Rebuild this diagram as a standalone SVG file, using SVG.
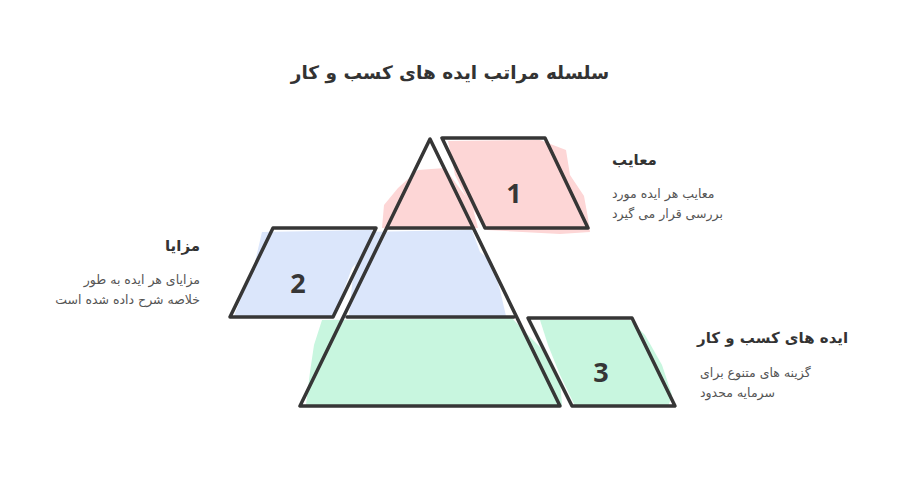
<svg xmlns="http://www.w3.org/2000/svg" width="900" height="482" viewBox="0 0 900 482">
<style>
.outline{fill:none;stroke:#363636;stroke-width:3.5;stroke-linejoin:round;stroke-linecap:round}
.pink{fill:#fdd6d6}
.blue{fill:#dbe6fb}
.green{fill:#c8f6df}
.num{font-family:"Open Sans","DejaVu Sans",sans-serif;font-weight:bold;font-size:27px;fill:#363636;text-anchor:middle}
.title{font-family:"DejaVu Sans","Liberation Sans",sans-serif;font-weight:bold;font-size:18.5px;fill:#333}
.head{font-family:"DejaVu Sans","Liberation Sans",sans-serif;font-weight:bold;font-size:15px;fill:#333}
.desc{font-family:"DejaVu Sans","Liberation Sans",sans-serif;font-size:12.5px;fill:#555}
</style>
<rect width="900" height="482" fill="#fff"/>
<text class="title" x="450" y="79" text-anchor="middle" direction="rtl">سلسله مراتب ایده های کسب و کار</text>

<g id="pyramid">
  <path class="pink" d="M382,228 L384,205 L398,188 L418,170 L445,168 L458,186 L472,205 L478,228 Z"/>
  <path class="blue" d="M349,316 L352,285 L360,232 L472,230 L480,252 L492,262 L500,290 L506,316 Z"/>
  <path class="green" d="M306,405 L310,372 L314,345 L322,320 L512,318 L525,332 L545,352 L560,380 L562,405 Z"/>
  <path class="outline" d="M430,139 L300,406 L560,406 Z"/>
  <line class="outline" x1="388" y1="228" x2="473" y2="228"/>
  <line class="outline" x1="347" y1="317" x2="514" y2="317"/>
</g>

<g id="node1">
  <path class="pink" d="M448,141 L540,140 L566,150 L570,175 L584,196 L588,218 L590,232 L560,234 L487,230 L470,205 L455,175 Z"/>
  <path class="outline" d="M442,138 L545,138 L588,228 L485,228 Z"/>
  <text class="num" x="514" y="203">1</text>
  <text class="head" x="612" y="165">معایب</text>
  <text class="desc" x="612" y="198">معایب هر ایده مورد</text>
  <text class="desc" x="612" y="218">بررسی قرار می گیرد</text>
</g>

<g id="node2">
  <path class="blue" d="M262,232 L372,230 L370,245 L352,268 L340,300 L332,316 L234,316 L246,285 L255,262 Z"/>
  <path class="outline" d="M273,228 L376,228 L333,317 L230,317 Z"/>
  <text class="num" x="298" y="293">2</text>
  <text class="head" x="200" y="251" text-anchor="end">مزایا</text>
  <text class="desc" x="200" y="284" text-anchor="end">مزایای هر ایده به طور</text>
  <text class="desc" x="200" y="304" text-anchor="end">خلاصه شرح داده شده است</text>
</g>

<g id="node3">
  <path class="green" d="M540,320 L630,320 L645,335 L662,365 L672,395 L668,407 L575,406 L560,375 L548,345 Z"/>
  <path class="outline" d="M528,318 L632,318 L675,406 L572,406 Z"/>
  <text class="num" x="601" y="382">3</text>
  <text class="head" x="697" y="343">ایده های کسب و کار</text>
  <text class="desc" x="700" y="377">گزینه های متنوع برای</text>
  <text class="desc" x="700" y="397">سرمایه محدود</text>
</g>
</svg>
